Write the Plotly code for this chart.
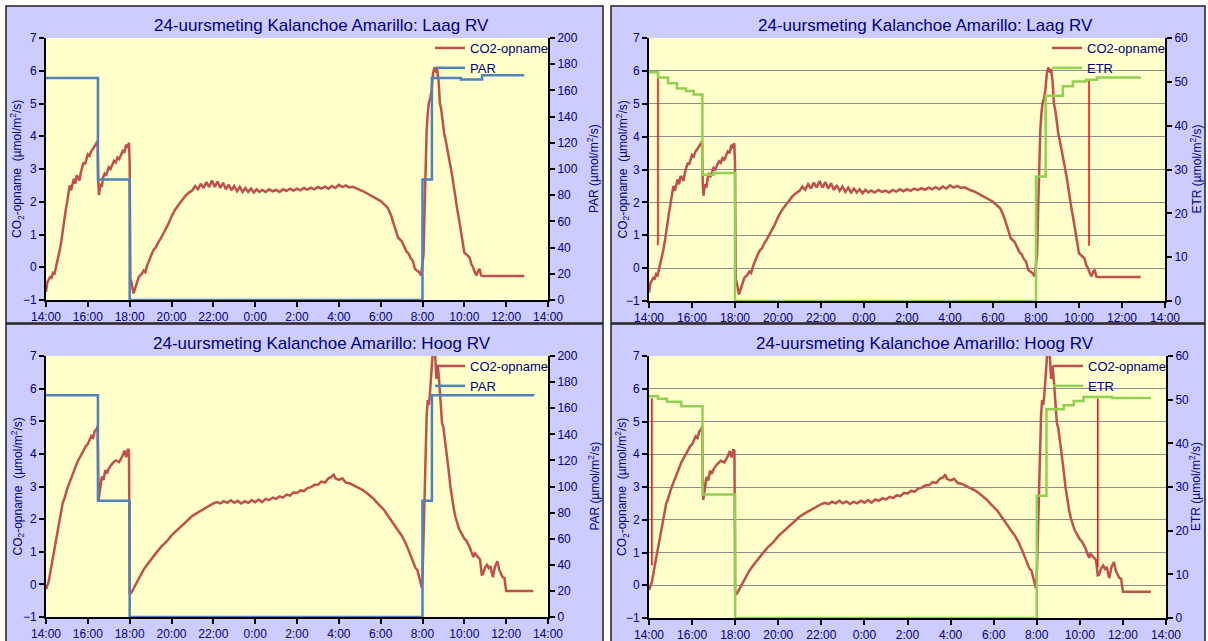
import plotly.graph_objects as go

W, H = 1208, 641

# ---------------- data ----------------
panel_titles = [
    "24-uursmeting Kalanchoe Amarillo: Laag RV",
    "24-uursmeting Kalanchoe Amarillo: Laag RV",
    "24-uursmeting Kalanchoe Amarillo: Hoog RV",
    "24-uursmeting Kalanchoe Amarillo: Hoog RV",
]
co2_axis_title = "CO<sub>2</sub>-opname  (µmol/m<sup>2</sup>/s)"
par_axis_title = "PAR (µmol/m<sup>2</sup>/s)"
etr_axis_title = "ETR (µmol/m<sup>2</sup>/s)"
name_co2, name_par, name_etr = "CO2-opname", "PAR", "ETR"

co2_laag_time = [
    "14:00", "14:04", "14:08", "14:12", "14:16", "14:20", "14:24", "14:28", "14:32", "14:36",
    "14:40", "14:44", "14:48", "14:52", "14:56", "15:00", "15:04", "15:08", "15:12", "15:16",
    "15:20", "15:24", "15:28", "15:32", "15:36", "15:40", "15:44", "15:48", "15:52", "15:56",
    "16:00", "16:05", "16:10", "16:15", "16:20", "16:25", "16:28", "16:30", "16:32", "16:36",
    "16:40", "16:44", "16:48", "16:52", "16:56", "17:00", "17:05", "17:10", "17:15", "17:20",
    "17:25", "17:30", "17:35", "17:40", "17:45", "17:50", "17:54", "17:58", "18:00", "18:02",
    "18:05", "18:08", "18:11", "18:14", "18:18", "18:22", "18:26", "18:30", "18:35", "18:40",
    "18:45", "18:50", "18:55", "19:00", "19:05", "19:10", "19:15", "19:20", "19:25", "19:30",
    "19:40", "19:50", "20:00", "20:10", "20:20", "20:30", "20:40", "20:50", "21:00", "21:08",
    "21:16", "21:24", "21:32", "21:40", "21:48", "21:56", "22:04", "22:12", "22:20", "22:28",
    "22:36", "22:44", "22:52", "23:00", "23:08", "23:16", "23:24", "23:32", "23:40", "23:48",
    "23:56", "0:04", "0:12", "0:20", "0:30", "0:40", "0:50", "1:00", "1:10", "1:20",
    "1:30", "1:40", "1:50", "2:00", "2:10", "2:20", "2:30", "2:40", "2:50", "3:00",
    "3:10", "3:20", "3:30", "3:40", "3:50", "4:00", "4:10", "4:20", "4:30", "4:40",
    "4:50", "5:00", "5:10", "5:20", "5:30", "5:40", "5:50", "6:00", "6:10", "6:20",
    "6:30", "6:40", "6:50", "7:00", "7:08", "7:14", "7:20", "7:26", "7:32", "7:38",
    "7:44", "7:50", "7:56", "8:00", "8:03", "8:06", "8:09", "8:12", "8:15", "8:18",
    "8:22", "8:26", "8:30", "8:34", "8:38", "8:42", "8:46", "8:50", "8:54", "8:58",
    "9:02", "9:06", "9:10", "9:15", "9:20", "9:25", "9:30", "9:35", "9:40", "9:45",
    "9:50", "9:55", "10:00", "10:05", "10:10", "10:15", "10:20", "10:25", "10:30", "10:35",
    "10:40", "10:44", "10:48", "10:52", "12:52",
]
co2_laag_value = [
    -0.75, -0.45, -0.38, -0.30, -0.32, -0.18, -0.22, -0.05, 0.15, 0.35,
    0.55, 0.80, 1.15, 1.45, 1.70, 1.95, 2.20, 2.50, 2.35, 2.55,
    2.70, 2.55, 2.80, 2.75, 2.65, 2.90, 3.05, 3.20, 3.15, 3.35,
    3.45, 3.40, 3.55, 3.62, 3.70, 3.78, 3.85, 2.60, 2.20, 2.55,
    2.45, 2.75, 2.85, 2.80, 2.95, 3.05, 3.00, 3.15, 3.25, 3.20,
    3.35, 3.30, 3.45, 3.55, 3.50, 3.75, 3.65, 3.80, 3.20, -0.35,
    -0.45, -0.65, -0.80, -0.70, -0.55, -0.40, -0.30, -0.25, -0.20, -0.10,
    -0.15, 0.05, 0.20, 0.35, 0.45, 0.55, 0.60, 0.72, 0.80, 0.90,
    1.10, 1.30, 1.55, 1.75, 1.90, 2.05, 2.18, 2.28, 2.35, 2.48,
    2.38, 2.55, 2.42, 2.60, 2.45, 2.65, 2.45, 2.62, 2.42, 2.58,
    2.38, 2.52, 2.35, 2.48, 2.32, 2.45, 2.30, 2.42, 2.30, 2.40,
    2.28, 2.38, 2.30, 2.36, 2.30, 2.38, 2.32, 2.36, 2.30, 2.38,
    2.33, 2.40, 2.34, 2.40, 2.35, 2.42, 2.37, 2.43, 2.38, 2.45,
    2.40, 2.46, 2.40, 2.48, 2.42, 2.52, 2.45, 2.50, 2.44, 2.46,
    2.40, 2.36, 2.32, 2.26, 2.22, 2.14, 2.08, 2.02, 1.92, 1.82,
    1.58, 1.25, 0.90, 0.80, 0.62, 0.48, 0.42, 0.28, 0.20, -0.05,
    -0.10, -0.15, -0.25, 0.05, 0.40, 1.80, 3.20, 4.20, 4.70, 5.00,
    5.15, 5.40, 5.90, 6.10, 6.00, 6.05, 5.70, 5.00, 4.80, 4.40,
    4.10, 3.90, 3.70, 3.40, 3.10, 2.80, 2.40, 2.10, 1.75, 1.45,
    1.10, 0.80, 0.45, 0.40, 0.35, 0.30, 0.10, 0.00, -0.15, -0.25,
    -0.10, -0.05, -0.25, -0.27, -0.27,
]

co2_hoog_time = [
    "14:00", "14:04", "14:08", "14:12", "14:16", "14:20", "14:24", "14:28", "14:32", "14:36",
    "14:40", "14:44", "14:48", "14:52", "14:56", "15:00", "15:05", "15:10", "15:15", "15:20",
    "15:25", "15:30", "15:35", "15:40", "15:45", "15:50", "15:55", "16:00", "16:05", "16:10",
    "16:15", "16:20", "16:25", "16:28", "16:30", "16:31", "16:35", "16:40", "16:45", "16:50",
    "16:55", "17:00", "17:10", "17:20", "17:30", "17:40", "17:45", "17:50", "17:55", "17:58",
    "18:00", "18:05", "18:10", "18:20", "18:30", "18:40", "18:50", "19:00", "19:15", "19:30",
    "19:45", "20:00", "20:15", "20:30", "20:45", "21:00", "21:15", "21:30", "21:45", "22:00",
    "22:10", "22:20", "22:30", "22:40", "22:50", "23:00", "23:10", "23:20", "23:30", "23:40",
    "23:50", "0:00", "0:10", "0:20", "0:30", "0:40", "0:50", "1:00", "1:10", "1:20",
    "1:30", "1:40", "1:50", "2:00", "2:10", "2:20", "2:30", "2:40", "2:50", "3:00",
    "3:10", "3:20", "3:30", "3:40", "3:45", "3:50", "4:00", "4:10", "4:20", "4:30",
    "4:40", "4:50", "5:00", "5:10", "5:20", "5:30", "5:40", "5:50", "6:00", "6:10",
    "6:20", "6:30", "6:40", "6:50", "7:00", "7:10", "7:20", "7:30", "7:40", "7:45",
    "7:50", "7:55", "7:58", "8:00", "8:03", "8:06", "8:09", "8:12", "8:15", "8:18",
    "8:21", "8:24", "8:27", "8:30", "8:33", "8:36", "8:40", "8:44", "8:48", "8:52",
    "8:56", "9:00", "9:05", "9:10", "9:15", "9:20", "9:25", "9:30", "9:35", "9:40",
    "9:45", "9:50", "9:55", "10:00", "10:05", "10:10", "10:15", "10:20", "10:26", "10:30",
    "10:37", "10:45", "10:50", "10:53", "11:00", "11:05", "11:10", "11:15", "11:20", "11:22",
    "11:28", "11:35", "11:40", "11:45", "11:50", "11:55", "12:00", "13:18",
]
co2_hoog_value = [
    -0.15, -0.05, 0.10, 0.35, 0.60, 0.85, 1.10, 1.35, 1.60, 1.85,
    2.10, 2.30, 2.50, 2.60, 2.80, 2.90, 3.05, 3.20, 3.35, 3.50,
    3.65, 3.75, 3.85, 3.95, 4.05, 4.15, 4.25, 4.30, 4.45, 4.55,
    4.50, 4.70, 4.75, 4.85, 3.20, 2.60, 2.90, 3.30, 3.20, 3.50,
    3.40, 3.55, 3.70, 3.80, 3.75, 3.95, 4.10, 3.90, 4.15, 4.10,
    -0.30, -0.25, -0.15, 0.05, 0.25, 0.45, 0.60, 0.75, 0.95, 1.15,
    1.30, 1.50, 1.65, 1.80, 1.95, 2.10, 2.20, 2.30, 2.40, 2.48,
    2.52, 2.48, 2.55, 2.50, 2.58, 2.50, 2.56, 2.48, 2.55, 2.50,
    2.58, 2.52, 2.60, 2.52, 2.62, 2.58, 2.66, 2.62, 2.70, 2.66,
    2.75, 2.72, 2.82, 2.80, 2.88, 2.86, 2.95, 2.98, 3.05, 3.05,
    3.15, 3.12, 3.25, 3.30, 3.38, 3.25, 3.20, 3.25, 3.12, 3.10,
    3.05, 3.00, 2.95, 2.88, 2.80, 2.72, 2.62, 2.50, 2.40, 2.28,
    2.12, 1.95, 1.80, 1.65, 1.50, 1.30, 1.05, 0.80, 0.50, 0.45,
    0.20, 0.05, -0.10, 0.20, 1.50, 3.50, 4.80, 5.20, 5.65, 5.50,
    5.80, 6.30, 6.80, 7.20, 7.30, 7.10, 6.30, 6.70, 6.20, 5.50,
    4.95, 4.80, 4.40, 3.90, 3.50, 3.00, 2.60, 2.30, 2.05, 1.85,
    1.70, 1.60, 1.50, 1.40, 1.35, 1.25, 1.15, 1.00, 0.84, 0.95,
    0.87, 0.77, 0.30, 0.31, 0.53, 0.60, 0.50, 0.56, 0.30, 0.22,
    0.55, 0.71, 0.45, 0.35, 0.22, 0.20, -0.20, -0.20,
]

par_laag_time = ["14:00", "16:29", "18:00", "8:00", "8:27", "9:50", "10:51", "12:52"]
par_laag_value = [169.5, 92, 0, 92, 169.5, 168.3, 171.5, 171.5]
par_hoog_time = ["14:00", "16:29", "18:00", "8:00", "8:27", "13:18"]
par_hoog_value = [170, 89, 0, 89, 170, 169.5]

etr_laag_time = ["14:00", "14:25", "14:53", "15:18", "15:43", "16:05", "16:29", "17:00", "18:00",
                 "8:00", "8:27", "9:15", "9:43", "10:20", "10:50", "12:50"]
etr_laag_value = [52.2, 51.0, 49.7, 48.5, 47.9, 47.1, 28.8, 29.2, 0,
                  28.4, 46.8, 49.0, 50.1, 50.5, 51.0, 51.1]
etr_hoog_time = ["14:00", "14:25", "14:50", "15:30", "16:29", "18:00", "8:00", "8:27", "9:15",
                 "9:43", "10:10", "11:30", "13:18"]
etr_hoog_value = [50.8, 50.2, 49.5, 48.5, 28.3, 0, 28.0, 47.8, 48.7,
                  49.7, 50.6, 50.4, 50.4]

marker_laag_time = ["14:25", "10:28"]
marker_laag_top = [5.8, 5.72]
marker_laag_bottom = [0.7, 0.68]
marker_hoog_time = ["14:08", "10:50"]
marker_hoog_top = [5.71, 5.7]
marker_hoog_bottom = [0.6, 0.55]

axis_start, axis_end = "2009-03-01 14:00", "2009-03-02 14:00"


def to_dt(s):
    h, m = (int(p) for p in s.split(":"))
    day = 1 if h >= 14 else 2
    return f"2009-03-0{day} {h:02d}:{m:02d}"


def dts(lst):
    return [to_dt(s) for s in lst]


# ---------------- styling ----------------
NAVY = "#000080"
FONT = "Liberation Sans, Arial, sans-serif"
RED = "#c0504d"
BLUE = "#4f81bd"
GREEN = "#92d050"
LAV = "#ccccff"
YEL = "#ffffcc"


def px(p):
    return p / W


def py(p):
    return 1 - p / H


fig = go.Figure()

# panel geometry (pixels)
panels = [
    dict(box=(6, 6, 603, 323), plot=(46, 38, 548, 300), row="laag", kind="par"),
    dict(box=(611, 6, 1205, 323), plot=(649, 38, 1165, 301), row="laag", kind="etr"),
    dict(box=(6, 324, 603, 660), plot=(46, 356, 548, 617), row="hoog", kind="par"),
    dict(box=(611, 324, 1205, 660), plot=(649, 356, 1166, 618), row="hoog", kind="etr"),
]

co2_data = {"laag": (co2_laag_time, co2_laag_value), "hoog": (co2_hoog_time, co2_hoog_value)}
par_data = {"laag": (par_laag_time, par_laag_value), "hoog": (par_hoog_time, par_hoog_value)}
etr_data = {"laag": (etr_laag_time, etr_laag_value), "hoog": (etr_hoog_time, etr_hoog_value)}
marker_data = {"laag": (marker_laag_time, marker_laag_top, marker_laag_bottom),
               "hoog": (marker_hoog_time, marker_hoog_top, marker_hoog_bottom)}

shapes = []
annotations = []
layout_axes = {}

tickfont = dict(size=12, color=NAVY, family=FONT)
axis_common = dict(showline=True, linecolor="black", linewidth=2, ticks="outside",
                   ticklen=5, tickwidth=2, tickcolor="black", tickfont=tickfont,
                   zeroline=False, fixedrange=True, automargin=False)

for i, p in enumerate(panels):
    n = i + 1
    xid = "x" if n == 1 else f"x{n}"
    yl_num, yr_num = 2 * i + 1, 2 * i + 2
    yl = "y" if yl_num == 1 else f"y{yl_num}"
    yr = f"y{yr_num}"
    bx0, by0, bx1, by1 = p["box"]
    x0, y0, x1, y1 = p["plot"]

    # panel background
    shapes.append(dict(type="rect", xref="paper", yref="paper", x0=px(bx0), x1=px(bx1),
                       y0=py(by1), y1=py(by0), fillcolor=LAV,
                       line=dict(color="#202020", width=1.5), layer="below"))
    # plot area
    shapes.append(dict(type="rect", xref=f"{xid} domain", yref=f"{yl} domain", x0=0, x1=1,
                       y0=0, y1=1, fillcolor=YEL, line=dict(width=0), layer="below"))

    xname = "xaxis" if n == 1 else f"xaxis{n}"
    ylname = "yaxis" if yl_num == 1 else f"yaxis{yl_num}"
    yrname = f"yaxis{yr_num}"
    layout_axes[xname] = dict(axis_common, type="date", range=[axis_start, axis_end],
                              tickformat="%-H:%M", dtick=7200000, tick0=axis_start,
                              domain=[px(x0), px(x1)], anchor=yl, showgrid=False,
                              layer="below traces")
    layout_axes[ylname] = dict(axis_common, range=[-1, 7], dtick=1, tick0=0,
                               domain=[py(y1), py(y0)], anchor=xid,
                               showgrid=(p["kind"] == "etr"), gridcolor="#8c8c8c", gridwidth=1,
                               layer="below traces")
    if p["kind"] == "par":
        layout_axes[yrname] = dict(axis_common, range=[0, 200], dtick=20, tick0=0,
                                   overlaying=yl, side="right", anchor=xid, showgrid=False)
    else:
        layout_axes[yrname] = dict(axis_common, range=[0, 60], dtick=10, tick0=0,
                                   overlaying=yl, side="right", anchor=xid, showgrid=False)

    leg = "legend" if n == 1 else f"legend{n}"
    ct, cv = co2_data[p["row"]]
    fig.add_trace(go.Scatter(x=dts(ct), y=cv, mode="lines", name=name_co2,
                             line=dict(color=RED, width=2.5), xaxis=xid, yaxis=yl,
                             legend=leg, hoverinfo="skip"))
    mt, mtop, mbot = marker_data[p["row"]]
    if p["kind"] == "etr":
        mx, my = [], []
        for t, a, b in zip(mt, mtop, mbot):
            mx += [to_dt(t), to_dt(t), None]
            my += [a, b, None]
        fig.add_trace(go.Scatter(x=mx, y=my, mode="lines", showlegend=False,
                                 line=dict(color="#ff0000", width=1.5), xaxis=xid, yaxis=yl,
                                 hoverinfo="skip"))
        st, sv = etr_data[p["row"]]
        sname, scol = name_etr, GREEN
        rtitle = etr_axis_title
    else:
        st, sv = par_data[p["row"]]
        sname, scol = name_par, BLUE
        rtitle = par_axis_title
    fig.add_trace(go.Scatter(x=dts(st), y=sv, mode="lines", name=sname, line_shape="hv",
                             line=dict(color=scol, width=2.5), xaxis=xid, yaxis=yr,
                             legend=leg, hoverinfo="skip"))

    # legend
    layout_axes[leg] = dict(x=px(x1 - 118), y=py(y0 - 5), xanchor="left", yanchor="top",
                            bgcolor="rgba(0,0,0,0)", borderwidth=0,
                            font=dict(size=13, color=NAVY, family=FONT), tracegroupgap=0)

    # titles
    annotations.append(dict(text=panel_titles[i], xref="paper", yref="paper",
                            x=px((bx0 + bx1) / 2 + 17), y=py(by0 + 19), showarrow=False,
                            xanchor="center", yanchor="middle",
                            font=dict(size=17, color=NAVY, family=FONT)))
    annotations.append(dict(text=co2_axis_title, xref="paper", yref="paper",
                            x=px(bx0 + 11), y=py((y0 + y1) / 2), showarrow=False,
                            textangle=-90, xanchor="center", yanchor="middle",
                            font=dict(size=12, color=NAVY, family=FONT)))
    annotations.append(dict(text=rtitle, xref="paper", yref="paper",
                            x=px(bx1 - 10), y=py((y0 + y1) / 2), showarrow=False,
                            textangle=-90, xanchor="center", yanchor="middle",
                            font=dict(size=12, color=NAVY, family=FONT)))

fig.update_layout(
    width=W, height=H, margin=dict(l=0, r=0, t=0, b=0, autoexpand=False),
    paper_bgcolor="white", plot_bgcolor="rgba(0,0,0,0)",
    font=dict(family=FONT, color=NAVY),
    shapes=shapes, annotations=annotations, hovermode=False,
    **layout_axes,
)

fig.write_html("out.html", config={"displayModeBar": False})
